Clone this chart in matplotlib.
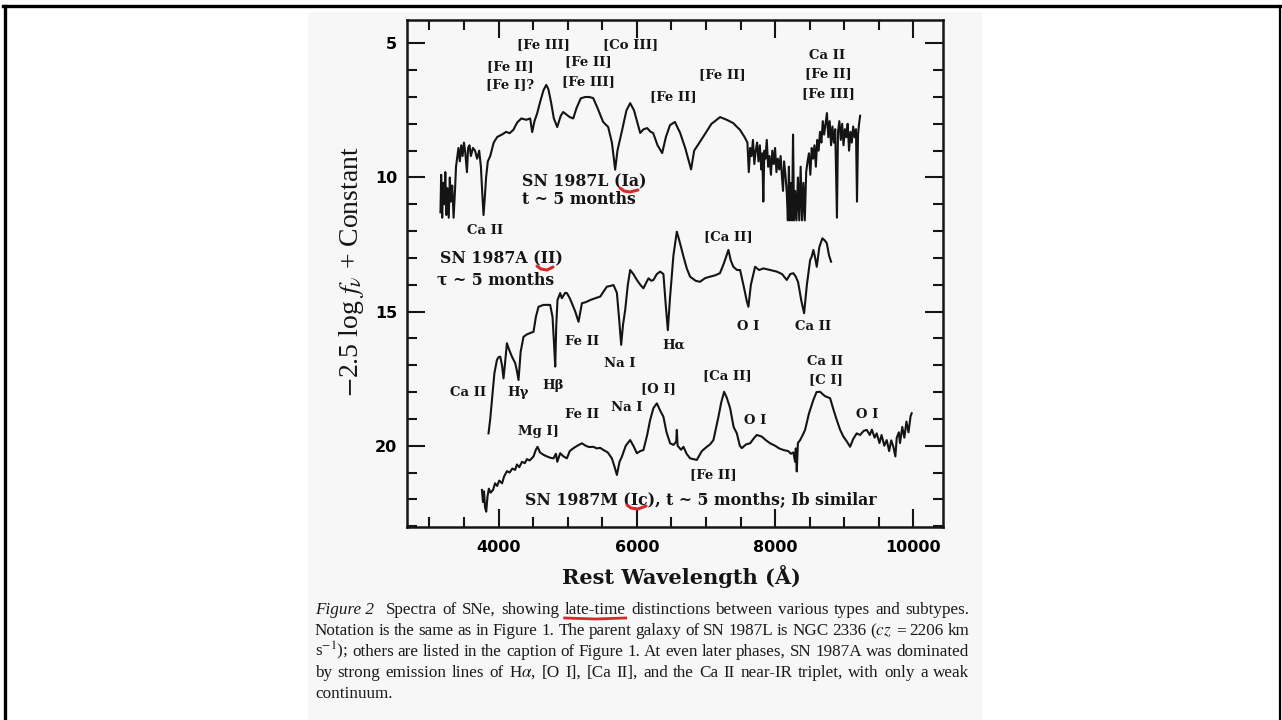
import matplotlib
matplotlib.use("Agg")
import matplotlib.pyplot as plt
from matplotlib.ticker import MultipleLocator
from matplotlib.patches import Rectangle
from matplotlib.lines import Line2D

plt.rcParams["mathtext.fontset"] = "stix"

# spectra: (rest wavelength [A], -2.5 log f_nu + const)
# SN 1987L (Ia), t ~ 5 months
ia_spec = [
    (3160, 11.3), (3170, 9.9), (3185, 11.5), (3200, 10.2), (3215, 11.0), (3230, 9.8),
    (3245, 11.4), (3260, 10.4), (3280, 11.5), (3295, 10.0), (3310, 10.9), (3330, 10.3),
    (3350, 11.5), (3370, 10.5), (3385, 9.6), (3400, 9.3), (3420, 8.9), (3440, 9.4),
    (3460, 8.8), (3480, 9.2), (3500, 8.7), (3520, 9.1), (3543, 9.8), (3560, 8.9),
    (3580, 8.8), (3600, 9.2), (3630, 8.9), (3660, 9.0), (3690, 9.3), (3720, 9.0),
    (3745, 9.6), (3765, 10.6), (3783, 11.4), (3800, 10.8), (3820, 10.0), (3845, 9.4),
    (3880, 9.2), (3930, 8.7), (3981, 8.49), (4050, 8.4), (4110, 8.3), (4160, 8.35),
    (4213, 8.23), (4270, 7.95), (4330, 7.8), (4400, 7.85), (4458, 7.8), (4487, 8.31),
    (4520, 7.9), (4560, 7.6), (4600, 7.2), (4650, 6.75), (4690, 6.55), (4720, 6.7),
    (4760, 7.2), (4800, 7.8), (4849, 8.12), (4900, 7.7), (4935, 7.56), (4980, 7.65),
    (5030, 7.75), (5080, 7.8), (5130, 7.4), (5190, 7.05), (5253, 7.0), (5310, 7.0),
    (5369, 7.04), (5430, 7.4), (5513, 7.93), (5586, 8.12), (5640, 8.7), (5687, 9.71),
    (5720, 9.0), (5788, 8.23), (5850, 7.5), (5904, 7.23), (5960, 7.5), (6049, 8.34),
    (6100, 8.2), (6150, 8.16), (6200, 8.3), (6236, 8.34), (6300, 8.8), (6367, 9.09),
    (6420, 8.5), (6480, 8.05), (6550, 7.93), (6627, 8.34), (6700, 8.9), (6785, 9.7),
    (6830, 9.0), (6959, 8.49), (7080, 8.0), (7205, 7.75), (7300, 7.85), (7393, 7.97),
    (7494, 8.23), (7560, 8.5), (7600, 8.7), (7620, 9.8), (7640, 8.9), (7660, 9.2),
    (7680, 8.6), (7700, 9.5), (7720, 9.0), (7740, 8.7), (7760, 9.4), (7780, 8.8),
    (7800, 9.7), (7815, 9.1), (7830, 10.9), (7845, 9.0), (7860, 9.3), (7880, 8.6),
    (7900, 9.6), (7920, 9.2), (7940, 9.9), (7960, 9.0), (7980, 9.5), (8000, 8.9),
    (8020, 9.8), (8040, 9.3), (8060, 9.7), (8080, 9.2), (8100, 10.0), (8115, 10.5),
    (8130, 9.4), (8150, 9.9), (8170, 10.6), (8185, 11.6), (8200, 9.6), (8215, 11.6),
    (8230, 10.2), (8245, 11.6), (8260, 8.4), (8275, 11.6), (8290, 10.5), (8310, 11.6),
    (8330, 10.0), (8350, 11.6), (8370, 9.6), (8390, 11.6), (8410, 10.2), (8430, 11.6),
    (8450, 9.8), (8470, 9.4), (8490, 9.1), (8510, 9.9), (8530, 8.9), (8550, 9.3),
    (8570, 8.8), (8590, 9.6), (8610, 8.6), (8630, 9.0), (8650, 8.3), (8670, 8.7),
    (8690, 7.9), (8710, 8.4), (8730, 8.0), (8750, 7.6), (8770, 8.5), (8790, 7.9),
    (8810, 8.8), (8830, 8.1), (8850, 8.7), (8870, 8.2), (8895, 11.5), (8910, 8.3),
    (8930, 7.9), (8950, 8.6), (8970, 8.0), (8990, 8.8), (9010, 8.2), (9030, 8.5),
    (9050, 8.0), (9070, 9.0), (9090, 8.3), (9110, 8.7), (9130, 8.1), (9150, 8.5),
    (9170, 8.2), (9185, 10.9), (9200, 8.4), (9215, 8.0), (9230, 7.7),
]

# SN 1987A (II), tau ~ 5 months
ii_spec = [
    (3855, 19.54), (3880, 19.0), (3905, 18.29), (3940, 17.3), (3977, 16.80), (4000, 16.7),
    (4025, 16.68), (4050, 17.0), (4072, 17.49), (4095, 16.9), (4121, 16.18), (4150, 16.4),
    (4194, 16.68), (4241, 16.92), (4265, 17.2), (4289, 17.55), (4320, 16.5), (4361, 15.94),
    (4410, 15.85), (4458, 15.80), (4506, 15.75), (4540, 15.2), (4578, 14.82), (4620, 14.78),
    (4651, 14.75), (4700, 14.75), (4747, 14.75), (4781, 15.2), (4805, 16.3), (4820, 17.05),
    (4835, 15.5), (4853, 14.57), (4892, 14.31), (4915, 14.5), (4940, 14.4), (4965, 14.3),
    (4989, 14.31), (5030, 14.5), (5061, 14.69), (5110, 15.0), (5157, 15.38), (5206, 14.69),
    (5260, 14.65), (5326, 14.57), (5400, 14.5), (5471, 14.44), (5520, 14.25), (5567, 14.07),
    (5610, 14.05), (5663, 14.01), (5712, 14.3), (5745, 15.3), (5774, 16.24), (5800, 15.5),
    (5832, 14.94), (5870, 14.0), (5904, 13.45), (5950, 13.6), (6001, 13.82), (6050, 14.0),
    (6096, 14.13), (6140, 13.9), (6169, 13.76), (6210, 13.85), (6241, 13.82), (6290, 13.6),
    (6338, 13.51), (6385, 13.6), (6420, 14.8), (6449, 15.69), (6480, 14.5), (6530, 12.9),
    (6579, 12.02), (6620, 12.4), (6675, 12.95), (6724, 13.4), (6771, 13.70), (6850, 13.85),
    (6913, 13.89), (6990, 13.75), (7058, 13.70), (7130, 13.65), (7202, 13.57), (7260, 13.2),
    (7325, 12.70), (7360, 13.1), (7397, 13.33), (7450, 13.45), (7494, 13.45), (7550, 14.1),
    (7590, 14.6), (7614, 14.82), (7650, 14.0), (7711, 13.33), (7770, 13.45), (7831, 13.39),
    (7930, 13.45), (8025, 13.51), (8100, 13.6), (8169, 13.82), (8220, 13.6), (8265, 13.57),
    (8300, 13.7), (8333, 13.9), (8380, 14.6), (8420, 15.06), (8460, 14.0), (8507, 13.08),
    (8530, 12.95), (8554, 12.70), (8580, 13.0), (8603, 13.33), (8640, 12.6), (8684, 12.27),
    (8720, 12.35), (8748, 12.45), (8780, 12.9), (8810, 13.14),
]

# SN 1987M (Ic), t ~ 5 months
ic_spec = [
    (3760, 21.65), (3775, 22.1), (3790, 21.7), (3805, 22.3), (3822, 22.46), (3840, 21.9),
    (3860, 21.6), (3885, 21.75), (3920, 21.65), (3950, 21.4), (3980, 21.5), (4010, 21.3),
    (4051, 21.40), (4080, 21.15), (4121, 20.95), (4160, 21.0), (4200, 20.85), (4240, 20.9),
    (4266, 20.7), (4300, 20.8), (4340, 20.6), (4380, 20.65), (4411, 20.5), (4450, 20.55),
    (4506, 20.4), (4540, 20.15), (4564, 20.04), (4600, 20.25), (4651, 20.34), (4700, 20.4),
    (4750, 20.45), (4795, 20.47), (4830, 20.3), (4850, 20.6), (4892, 20.28), (4940, 20.4),
    (4989, 20.47), (5030, 20.2), (5084, 20.09), (5140, 20.0), (5206, 19.91), (5260, 20.0),
    (5310, 20.05), (5373, 20.04), (5420, 20.1), (5470, 20.08), (5518, 20.16), (5580, 20.25),
    (5639, 20.47), (5680, 20.8), (5712, 21.09), (5750, 20.6), (5784, 20.41), (5840, 20.0),
    (5904, 19.79), (5950, 20.0), (6001, 20.28), (6050, 20.2), (6096, 20.16), (6150, 19.6),
    (6193, 19.04), (6240, 18.6), (6290, 18.42), (6340, 18.7), (6385, 18.92), (6430, 19.5),
    (6482, 19.91), (6530, 19.97), (6570, 19.85), (6579, 19.41), (6590, 20.0), (6640, 20.15),
    (6675, 20.04), (6720, 20.3), (6771, 20.47), (6820, 20.5), (6868, 20.53), (6940, 20.2),
    (7013, 20.04), (7060, 19.95), (7108, 19.79), (7150, 19.3), (7181, 18.92), (7220, 18.4),
    (7263, 17.99), (7300, 18.2), (7350, 18.6), (7400, 19.3), (7447, 19.54), (7490, 20.0),
    (7519, 20.09), (7580, 19.95), (7639, 19.91), (7700, 19.7), (7736, 19.6), (7808, 19.66),
    (7870, 19.8), (7928, 19.91), (8000, 20.0), (8060, 20.1), (8120, 20.16), (8190, 20.2),
    (8230, 20.3), (8265, 20.25), (8290, 20.6), (8300, 20.1), (8314, 20.96), (8330, 19.9),
    (8362, 19.79), (8400, 19.6), (8434, 19.41), (8490, 18.8), (8554, 18.29), (8600, 18.0),
    (8651, 17.99), (8720, 18.15), (8796, 18.23), (8850, 18.7), (8892, 19.04), (8940, 19.4),
    (8988, 19.66), (9040, 19.85), (9085, 20.04), (9130, 19.75), (9181, 19.54), (9230, 19.6),
    (9280, 19.45), (9326, 19.41), (9370, 19.6), (9400, 19.4), (9440, 19.7), (9470, 19.54),
    (9510, 19.9), (9540, 19.6), (9580, 20.0), (9615, 19.79), (9650, 20.2), (9680, 19.8),
    (9711, 20.04), (9740, 20.4), (9760, 19.7), (9790, 19.5), (9807, 19.9), (9840, 19.3),
    (9870, 19.7), (9900, 19.1), (9930, 19.5), (9960, 18.9), (9976, 18.79),
]

W, H = 1282, 720


def fx(px):
    return px / W


def fy(py):
    return 1 - py / H


fig = plt.figure(figsize=(W / 100, H / 100), dpi=100)

# scanned page and slide frame
fig.add_artist(Rectangle((fx(308), 0), fx(981) - fx(308), fy(12),
                         transform=fig.transFigure, color="#f7f7f7", zorder=0))
for xs, ys, lw in [((3, 1281), (6, 6), 2.4), ((4.5, 4.5), (6, 720), 2.4),
                   ((1280, 1280), (6, 720), 1.6)]:
    fig.add_artist(Line2D([fx(x) for x in xs], [fy(y) for y in ys],
                          color="black", lw=lw))

ax = fig.add_axes([fx(407), fy(527), fx(943) - fx(407), fy(20) - fy(527)])
ax.set_facecolor("none")

for spec in (ia_spec, ii_spec, ic_spec):
    wave, mag = zip(*spec)
    ax.plot(wave, mag, color="#141414", lw=1.5)

ax.set_xlim(2676, 10429)
ax.set_ylim(23.03, 4.13)

ax.xaxis.set_major_locator(MultipleLocator(2000))
ax.xaxis.set_minor_locator(MultipleLocator(500))
ax.yaxis.set_major_locator(MultipleLocator(5))
ax.yaxis.set_minor_locator(MultipleLocator(1))
ax.tick_params(which="both", direction="in", top=True, right=True, width=1.5,
               color="#151515", labelsize=11.5)
ax.tick_params(which="major", length=13)
ax.tick_params(which="minor", length=7)
ax.tick_params(axis="x", pad=9)
ax.tick_params(axis="y", pad=7)
for lab in ax.get_xticklabels() + ax.get_yticklabels():
    lab.set_fontweight("bold")
    lab.set_family("DejaVu Sans")
for sp in ax.spines.values():
    sp.set_linewidth(1.8)
    sp.set_color("#151515")

# axis titles
fig.text(fx(562), fy(577), "Rest Wavelength (Å)", fontsize=15,
         family="DejaVu Serif", weight="bold", ha="left", va="center",
         color="#151515")
fig.text(fx(352), fy(271), r"$-$2.5 log $f_\nu$ + Constant", fontsize=20,
         family="Liberation Serif", rotation=90, ha="center", va="center",
         color="#151515")

# line identifications
line_ids = [
    ("[Fe III]", 4651, 5.06), ("[Fe II]", 4169, 5.87), ("[Fe I]?", 4169, 6.55),
    ("[Fe II]", 5301, 5.69), ("[Fe III]", 5301, 6.43), ("[Co III]", 5904, 5.06),
    ("[Fe II]", 6526, 6.99), ("[Fe II]", 7230, 6.18), ("Ca II", 8748, 5.44),
    ("[Fe II]", 8771, 6.12), ("[Fe III]", 8771, 6.86), ("Ca II", 3808, 11.96),
    ("Fe II", 5206, 16.12), ("Na I", 5759, 16.93), ("Hα", 6530, 16.24),
    ("Ca II", 3566, 18.02), ("Hγ", 4289, 18.02), ("Hβ", 4786, 17.77),
    ("[Ca II]", 7325, 12.21), ("O I", 7614, 15.56), ("Ca II", 8554, 15.56),
    ("[O I]", 6313, 17.86), ("Mg I]", 4578, 19.48), ("Fe II", 5206, 18.85),
    ("Na I", 5856, 18.57), ("[Ca II]", 7302, 17.39), ("Ca II", 8730, 16.87),
    ("[C I]", 8730, 17.55), ("O I", 7711, 19.07), ("O I", 9326, 18.82),
    ("[Fe II]", 7108, 21.09),
]
for s, w, m in line_ids:
    ax.text(w, m, s, ha="center", va="center", fontsize=9.5,
            family="DejaVu Serif", weight="bold", color="#151515")

sn_labels = [
    ("SN 1987L (Ia)", 4338, 10.16), ("t ~ 5 months", 4338, 10.84),
    ("SN 1987A (II)", 3147, 13.05), ("τ ~ 5 months", 3109, 13.83),
    ("SN 1987M (Ic), t ~ 5 months; Ib similar", 4380, 21.99),
]
for s, w, m in sn_labels:
    ax.text(w, m, s, ha="left", va="center", fontsize=11.3,
            family="DejaVu Serif", weight="bold", color="#151515")

# red hand-drawn underlines
red = "#d62a2a"
for pts in [[(620, 188), (624, 191), (630, 192), (638, 190)],
            [(537, 266), (541, 269), (547, 270), (553, 267)],
            [(627, 505), (631, 508), (638, 509), (646, 506)]]:
    fig.add_artist(Line2D([fx(p[0]) for p in pts], [fy(p[1]) for p in pts],
                          color=red, lw=2.2, solid_capstyle="round"))

# caption, justified between two margins
nb = "\u00a0"
caption = [
    "Figure" + nb + "2 Spectra of SNe, showing late-time distinctions between various types and subtypes.",
    "Notation is the same as in Figure 1. The parent galaxy of SN 1987L is NGC 2336 ($cz$ = 2206 km",
    "s$^{-1}$); others are listed in the caption of Figure 1. At even later phases, SN 1987A was dominated",
    "by strong emission lines of H$\\alpha$, [O I], [Ca II], and the Ca II near-IR triplet, with only a weak",
    "continuum.",
]
cap_left, cap_right = 315, 969
renderer = fig.canvas.get_renderer()
for i, line in enumerate(caption):
    base = 614 + 21 * i
    words = line.split(" ")
    texts = []
    for w in words:
        style = "italic" if w.startswith("Figure" + nb) else "normal"
        texts.append(fig.text(0, fy(base), w, fontsize=12.3, style=style,
                              family="Liberation Serif", va="baseline",
                              color="#1a1a1a"))
    widths = [t.get_window_extent(renderer).width for t in texts]
    extra = 7 if i == 0 else 0
    if i < len(caption) - 1:
        gap = (cap_right - cap_left - sum(widths) - extra) / (len(words) - 1)
    else:
        gap = 3.5
    x = cap_left
    for j, (t, wd) in enumerate(zip(texts, widths)):
        t.set_x(fx(x))
        if words[j] == "late-time":
            fig.add_artist(Line2D([fx(x), fx(x + wd * 0.5), fx(x + wd)],
                                  [fy(base + 4), fy(base + 5), fy(base + 4)],
                                  color=red, lw=2.0))
        x += wd + gap + (extra if j == 0 else 0)

fig.savefig("out.png", dpi=100)
